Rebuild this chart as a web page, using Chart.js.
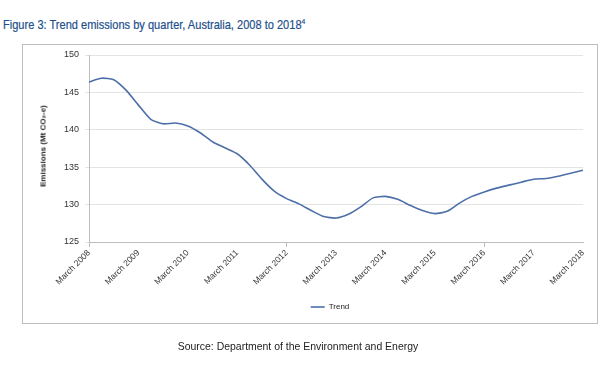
<!DOCTYPE html>
<html><head><meta charset="utf-8">
<script src="https://cdn.jsdelivr.net/npm/chart.js@4"></script>
<style>
html,body{margin:0;padding:0;background:#fff;}
#wrap{position:relative;width:600px;height:374px;overflow:hidden;font-family:"Liberation Sans",sans-serif;}
#title{position:absolute;left:3px;top:17px;font-size:13px;color:#1d4f8c;white-space:nowrap;transform:scaleX(0.85);transform-origin:0 0;-webkit-text-stroke:0.2px #1d4f8c;}
#title sup{font-size:8px;vertical-align:5px;line-height:0;}
#frame{position:absolute;left:22px;top:44px;width:574px;height:278px;border:1px solid #bdbdbd;}
#ytitle{position:absolute;left:43px;top:146px;transform:translate(-50%,-50%) rotate(-90deg);white-space:nowrap;font-weight:bold;font-size:8px;color:#222;}
#source{position:absolute;left:0;width:596px;top:340px;text-align:center;font-size:11px;color:#222;transform:scaleX(0.95);}
canvas{position:absolute;left:0;top:0;}
</style>
</head><body>
<div id="wrap">
<div id="title">Figure 3: Trend emissions by quarter, Australia, 2008 to 2018<sup>4</sup></div>
<div id="frame"></div>
<canvas id="c" width="600" height="374"></canvas>
<div id="ytitle">Emissions (Mt CO₂-e)</div>
<div id="source">Source: Department of the Environment and Energy</div>
</div>
<script>
const years = [2008,2009,2010,2011,2012,2013,2014,2015,2016,2017,2018];
const months = ["March","June","September","December"];
const seriesName = "Trend";
const trend = [
 146.4,146.9,146.7,145.3,
 143.3,141.4,140.8,140.9,
 140.5,139.6,138.4,137.6,
 136.8,135.3,133.4,131.8,
 130.8,130.1,129.2,128.4,
 128.2,128.7,129.7,130.9,
 131.1,130.7,129.9,129.2,
 128.8,129.1,130.2,131.1,
 131.7,132.2,132.6,133.0,
 133.4,133.5,133.8,134.2,
 134.6];
const yMin = 125, yMax = 150, yStep = 5;

const labels = [];
for (const y of years) for (const m of months) labels.push(m + " " + y);
labels.length = trend.length;

const legendShift = {
  id: 'legendShift',
  afterLayout(chart) {
    const lg = chart.legend;
    if (lg) { lg.left = 77; }
  }
};

new Chart(document.getElementById('c'), {
  type: 'line',
  data: { labels: labels, datasets: [{
    label: seriesName, data: trend,
    borderColor: '#4d6fa8', backgroundColor: '#4d6fa8',
    borderWidth: 1.6, pointRadius: 0, tension: 0.2, fill: false
  }]},
  plugins: [legendShift],
  options: {
    responsive: false, animation: false,
    layout: { padding: { left: 0, top: 55, right: 17, bottom: 53 } },
    plugins: {
      tooltip: { enabled: false },
      legend: {
        position: 'bottom',
        labels: {
          usePointStyle: true, pointStyle: 'line', pointStyleWidth: 14,
          padding: 6, color: '#222',
          font: { family: 'Liberation Sans', size: 8 }
        }
      }
    },
    scales: {
      x: {
        afterFit: s => { s.height = 55; },
        offset: false,
        grid: {
          drawOnChartArea: false, drawTicks: true, tickLength: 5,
          color: ctx => (ctx.index % 4 === 0 ? '#bdbdbd' : 'rgba(0,0,0,0)')
        },
        border: { color: '#bdbdbd' },
        ticks: {
          autoSkip: false, minRotation: 45, maxRotation: 45, padding: 1,
          color: '#333', font: { family: 'Liberation Sans', size: 8.5 },
          callback: function(v, i) { return i % 4 === 0 ? this.getLabelForValue(v) : null; }
        }
      },
      y: {
        afterFit: s => { s.width = 89; },
        min: yMin, max: yMax,
        grid: { color: '#e3e3e3', drawTicks: true, tickLength: 4 },
        border: { color: '#bdbdbd' },
        ticks: { stepSize: yStep, padding: 6, color: '#333', font: { family: 'Liberation Sans', size: 9 } }
      }
    }
  }
});
</script>
</body></html>
